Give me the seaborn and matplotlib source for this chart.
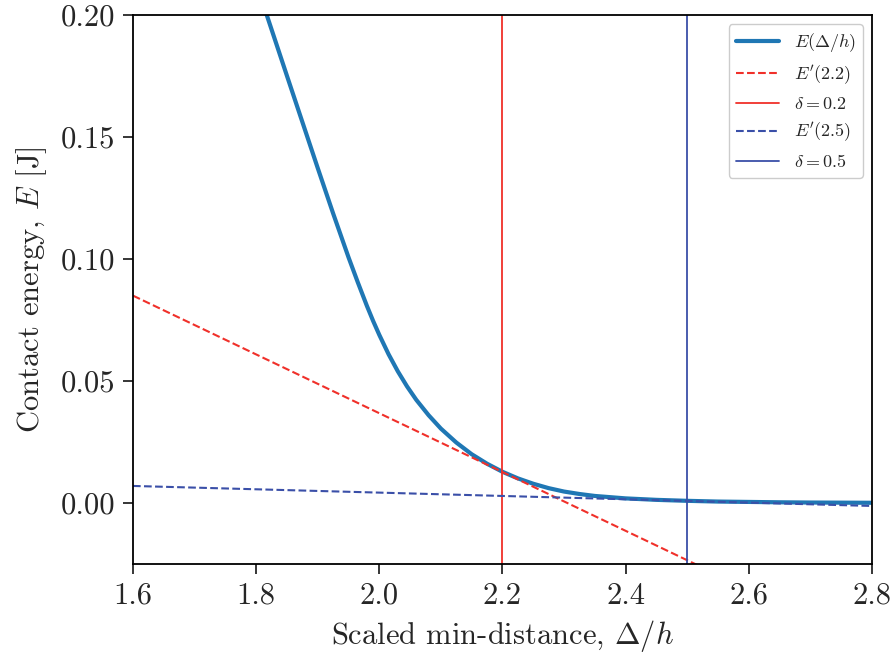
# Contact energy vs scaled min-distance, with tangents at 2.2 and 2.5

import matplotlib
matplotlib.use("Agg")
import matplotlib.pyplot as plt
import seaborn as sns
import pandas as pd

# values
dist = [1.800, 1.825, 1.850, 1.875, 1.900, 1.925, 1.950, 1.965, 1.980, 1.990,
        2.000, 2.015, 2.030, 2.045, 2.060, 2.080, 2.100, 2.125, 2.150, 2.175,
        2.200, 2.225, 2.250, 2.275, 2.300, 2.325, 2.350, 2.375, 2.400, 2.450,
        2.500, 2.550, 2.600, 2.650, 2.700, 2.750, 2.800]
energy = [0.2131, 0.1941, 0.1751, 0.1562, 0.1373, 0.1187, 0.1007, 0.0905, 0.0807, 0.0746,
          0.0689, 0.0610, 0.0540, 0.0478, 0.0423, 0.0360, 0.0305, 0.0248, 0.0200, 0.0161,
          0.0128, 0.0101, 0.0079, 0.0061, 0.0047, 0.0037, 0.0029, 0.0024, 0.0019, 0.0013,
          0.0009, 0.0006, 0.00045, 0.0003, 0.0002, 0.00015, 0.0001]

tan_x = [1.6, 2.8]
tan22_y = [0.085, -0.0596]
tan25_y = [0.0070, -0.0012]

delta_lines = [2.2, 2.5]

c_main = "#1f77b4"
c_red = "#f0302a"
c_blue = "#3a4fa8"

sns.set_style("ticks")
plt.rcParams["font.family"] = "serif"
plt.rcParams["font.serif"] = ["cmr10", "DejaVu Serif"]
plt.rcParams["mathtext.fontset"] = "cm"
plt.rcParams["axes.formatter.use_mathtext"] = True
plt.rcParams["axes.unicode_minus"] = False

fig = plt.figure(figsize=(8.96, 6.61), dpi=100)
ax = fig.add_axes([0.1484, 0.1467, 0.8248, 0.8306])

df = pd.DataFrame({"x": dist, "E": energy})
sns.lineplot(data=df, x="x", y="E", ax=ax, color=c_main, lw=3, label=r"$E(\Delta/h)$")
ax.plot(tan_x, tan22_y, ls="--", color=c_red, lw=1.5, label=r"$E'(2.2)$")
ax.axvline(delta_lines[0], color=c_red, lw=1.3, label=r"$\delta = 0.2$")
ax.plot(tan_x, tan25_y, ls="--", color=c_blue, lw=1.5, label=r"$E'(2.5)$")
ax.axvline(delta_lines[1], color=c_blue, lw=1.3, label=r"$\delta = 0.5$")

ax.set_xlim(1.6, 2.8)
ax.set_ylim(-0.025, 0.20)
ax.set_xticks([1.6, 1.8, 2.0, 2.2, 2.4, 2.6, 2.8])
ax.set_xticklabels(["1.6", "1.8", "2.0", "2.2", "2.4", "2.6", "2.8"])
ax.set_yticks([0.0, 0.05, 0.10, 0.15, 0.20])
ax.set_yticklabels(["0.00", "0.05", "0.10", "0.15", "0.20"])
ax.tick_params(labelsize=22, length=7, width=1.3, direction="out", pad=6)
for s in ax.spines.values():
    s.set_linewidth(1.3)
    s.set_color("black")

ax.set_xlabel(r"Scaled min-distance, $\Delta/h$", fontsize=22, labelpad=6)
ax.set_ylabel(r"Contact energy, $E$ [J]", fontsize=22, labelpad=8)

ax.legend(loc="upper right", fontsize=13, frameon=True, fancybox=True,
          edgecolor="#cccccc", framealpha=1.0, handlelength=2.4)

fig.savefig("out.png", dpi=100)
